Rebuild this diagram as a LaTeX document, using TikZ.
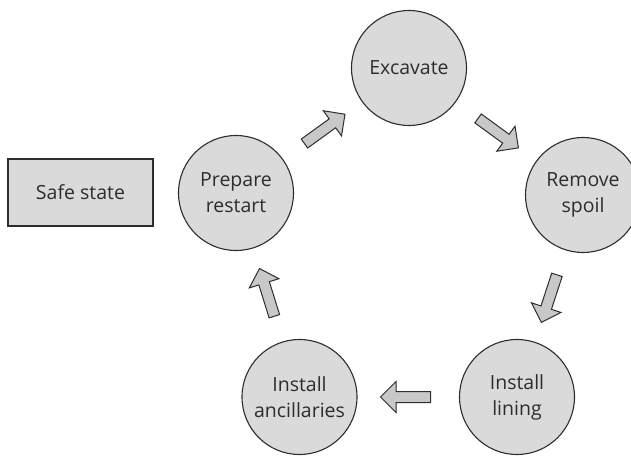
\documentclass[tikz,border=0pt]{standalone}
\usepackage{fontspec}
\setmainfont{Open Sans}
\usetikzlibrary{shapes.arrows}
\definecolor{linegray}{RGB}{45,45,45}
\definecolor{nodegray}{RGB}{218,218,219}
\definecolor{arrowgray}{RGB}{200,200,201}
\definecolor{textgray}{RGB}{45,45,45}
\begin{document}
\begin{tikzpicture}[x=1pt, y=-1pt,
    phase/.style={circle, draw=linegray, fill=nodegray, line width=1.1pt,
        minimum size=115pt, inner sep=0pt, align=center, text=textgray,
        font=\fontsize{19.5}{26}\selectfont},
    statebox/.style={rectangle, draw=linegray, fill=nodegray, line width=1.1pt,
        minimum width=145pt, minimum height=67pt, text=textgray,
        font=\fontsize{19.5}{26}\selectfont},
    blockarrow/.style={single arrow, draw=linegray, fill=arrowgray, line width=1pt,
        minimum height=50pt, single arrow head extend=10pt,
        inner xsep=0pt, inner ysep=5pt, sloped, allow upside down}
]
\useasboundingbox (0,0) rectangle (631,457);
\node[statebox] (safe) at (80.5,192.5) {Safe state};
\node[phase] (prep) at (236,193) {Prepare\\restart};
\node[phase] (exc) at (409,68) {Excavate};
\node[phase] (spoil) at (583,195) {Remove\\spoil};
\node[phase] (lining) at (517,397) {Install\\lining};
\node[phase] (ancil) at (299.5,397) {Install\\ancillaries};
\path (prep) -- node[blockarrow] {} (exc);
\path (exc) -- node[blockarrow] {} (spoil);
\path (spoil) -- node[blockarrow] {} (lining);
\path (lining) -- node[blockarrow] {} (ancil);
\path (ancil) -- node[blockarrow] {} (prep);
\end{tikzpicture}
\end{document}
